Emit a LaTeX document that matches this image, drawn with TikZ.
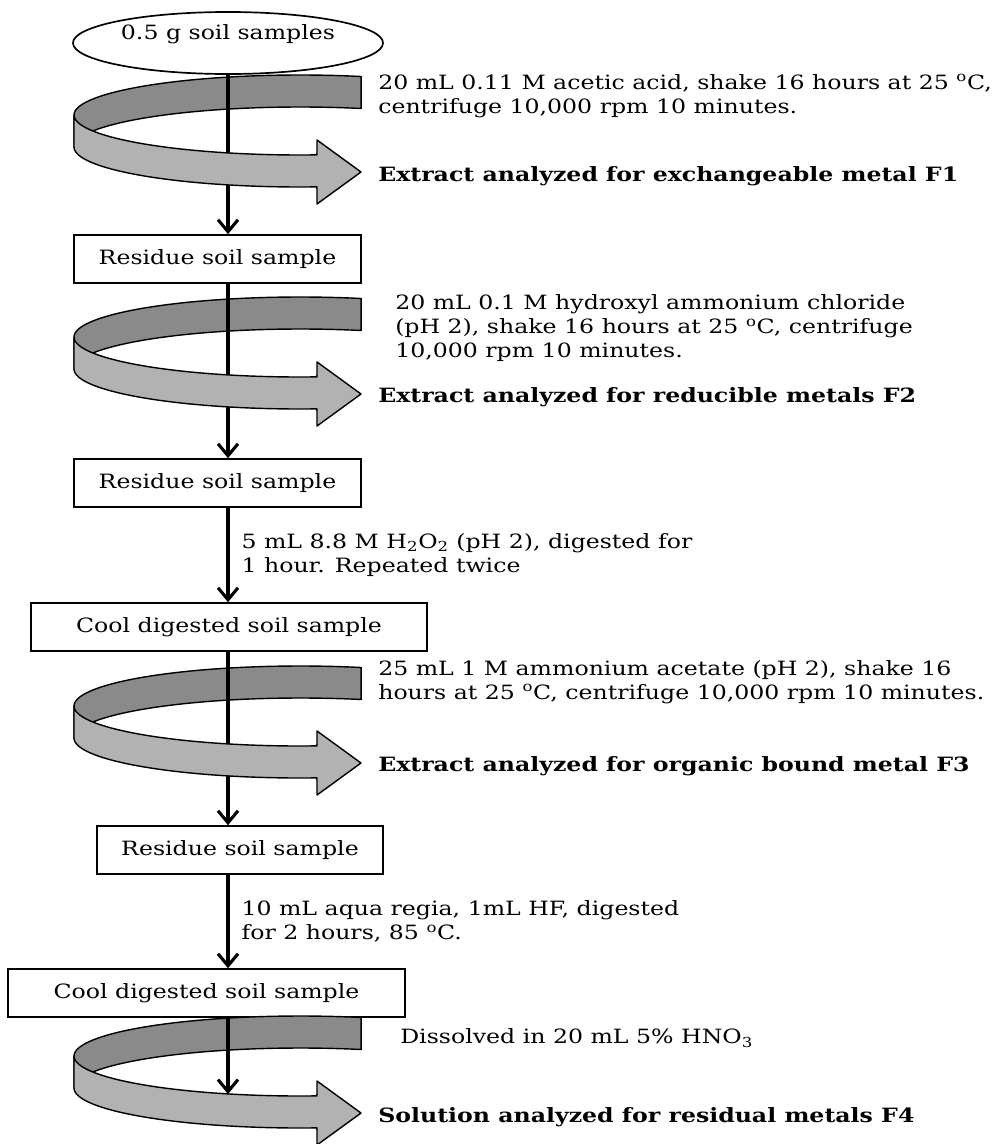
\documentclass[tikz,border=0pt]{standalone}
\usepackage{fontspec}
\setmainfont[FakeStretch=1.2]{DejaVu Serif}
\usetikzlibrary{shapes.geometric,arrows.meta}
\definecolor{BandBack}{HTML}{8A8A8A}
\definecolor{BandFront}{HTML}{B2B2B2}

\begin{document}
\begin{tikzpicture}[x=0.025cm, y=-0.025cm, font=\fontsize{14}{17}\selectfont,
    stepbox/.style={draw, line width=1.2pt, fill=white, minimum height=1.2cm, inner sep=0pt},
    flow/.style={line width=2.2pt, -{Straight Barb[length=3mm, width=5mm, line width=2.2pt]}},
    note/.style={align=left, inner sep=0pt},
    band/.style={draw, line width=1pt, line join=round}]
        \useasboundingbox (0,0) rectangle (1000,1144);
        \node[ellipse, draw, line width=1.2pt, fill=white, minimum width=7.75cm, minimum height=1.55cm, inner sep=0pt,
              text height=0.38cm, text depth=0.55cm] (ell) at (228,43) {0.5 g soil samples};
        \node[stepbox, minimum width=7.175cm] (res1) at (217.5,259) {Residue soil sample};
        \node[stepbox, minimum width=7.175cm] (res2) at (217.5,483) {Residue soil sample};
        \node[stepbox, minimum width=9.9cm] (cool1) at (229,627) {Cool digested soil sample};
        \node[stepbox, minimum width=7.15cm] (res3) at (240,850) {Residue soil sample};
        \node[stepbox, minimum width=9.925cm] (cool2) at (206.5,993) {Cool digested soil sample};
        \coordinate (axis) at (228,0);
        \coordinate (end) at (228,1094);
        \foreach \b in {76,298,667,1017}
            \fill[band, fill=BandBack] plot[domain=285.7:180, samples=40] ({300+226*cos(\x)}, {\b+39+40*sin(\x)})
                -- plot[domain=180:285.7, samples=40] ({300+226*cos(\x)}, {\b+71+40*sin(\x)}) -- cycle;
        \draw[flow] (ell.south) -- (axis |- res1.north);
        \draw[flow] (axis |- res1.south) -- (axis |- res2.north);
        \draw[flow] (axis |- res2.south) -- node[midway, note, right, xshift=0.3cm] {5 mL 8.8 M H\textsubscript{2}O\textsubscript{2} (pH 2), digested for\\1 hour. Repeated twice} (axis |- cool1.north);
        \draw[flow] (axis |- cool1.south) -- (axis |- res3.north);
        \draw[flow] (axis |- res3.south) -- node[midway, note, right, xshift=0.3cm] {10 mL aqua regia, 1mL HF, digested\\for 2 hours, 85 \textsuperscript{o}C.} (axis |- cool2.north);
        \foreach \b in {76,298,667,1017}
            \fill[band, fill=BandFront] plot[domain=180:85.7, samples=40] ({300+226*cos(\x)}, {\b+39+40*sin(\x)})
                -- (317,\b+64) -- (361,\b+96) -- (317,\b+128)
                -- plot[domain=85.7:180, samples=40] ({300+226*cos(\x)}, {\b+71+40*sin(\x)}) -- cycle;
        \draw[flow] (axis |- cool2.south) -- (end);
        \node[note, anchor=west] (t1) at (378,96) {20 mL 0.11 M acetic acid, shake 16 hours at 25 \textsuperscript{o}C,\\centrifuge 10,000 rpm 10 minutes.};
        \node[note, anchor=west] (f1) at (378,176) {\textbf{Extract analyzed for exchangeable metal F1}};
        \node[note, anchor=west] (t2) at (395,328) {20 mL 0.1 M hydroxyl ammonium chloride\\(pH 2), shake 16 hours at 25 \textsuperscript{o}C, centrifuge\\10,000 rpm 10 minutes.};
        \node[note, anchor=west] (f2) at (378,397) {\textbf{Extract analyzed for reducible metals F2}};
        \node[note, anchor=west] (t4) at (378,682) {25 mL 1 M ammonium acetate (pH 2), shake 16\\hours at 25 \textsuperscript{o}C, centrifuge 10,000 rpm 10 minutes.};
        \node[note, anchor=west] (f3) at (378,766) {\textbf{Extract analyzed for organic bound metal F3}};
        \node[note, anchor=west] (t6) at (400,1038) {Dissolved in 20 mL 5\% HNO\textsubscript{3}};
        \node[note, anchor=west] (f4) at (378,1117) {\textbf{Solution analyzed for residual metals F4}};
    \end{tikzpicture}
\end{document}
